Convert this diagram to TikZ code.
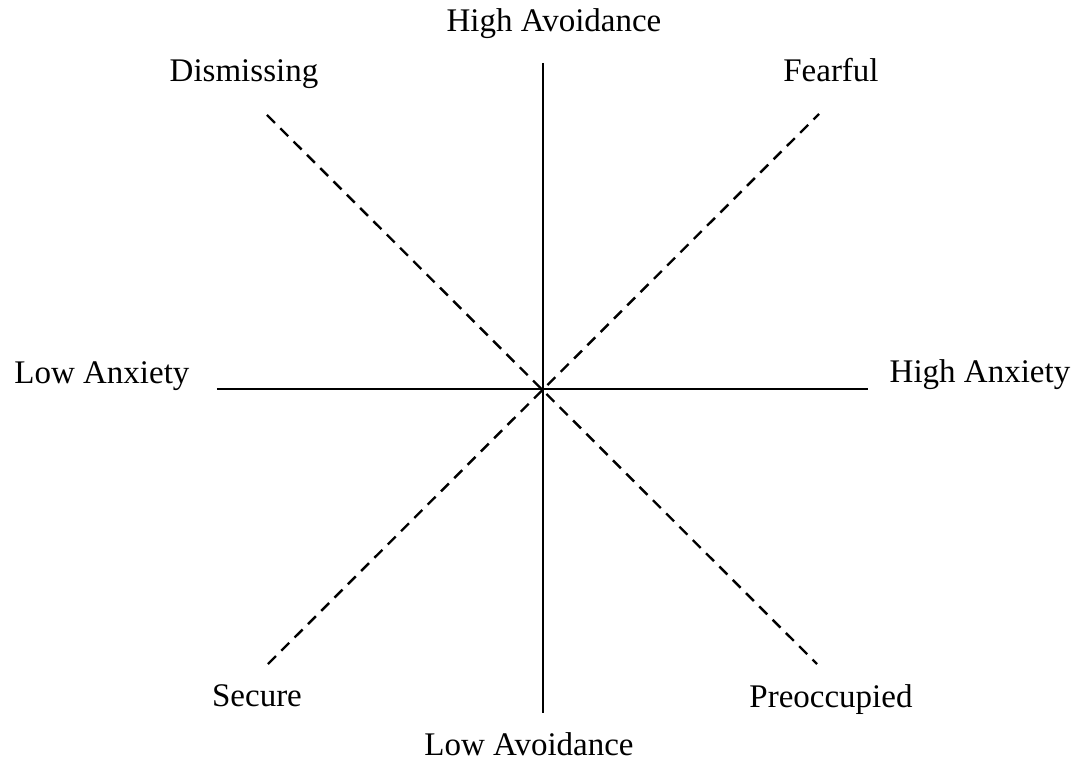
\documentclass[tikz,border=0pt]{standalone}
\usepackage{fontspec}
\setmainfont{Liberation Serif}
\usetikzlibrary{positioning}
\tikzset{
  axisline/.style={line width=1.25pt},
  styleline/.style={line width=1.2pt, dash pattern=on 5.6pt off 3.8pt},
  axlabel/.style={anchor=base, inner sep=0pt},
}

\begin{document}
\begin{tikzpicture}[
    x=0.5pt, y=0.5pt,
    font=\fontsize{16.5}{19.8}\selectfont,
    every node/.style={align=center},
]
\useasboundingbox (-543,-372) rectangle (534,389);

% ---- end points ----
\coordinate (c) at (0,0);
\coordinate (top) at (0,326);
\coordinate (bot) at (0,-324);
\coordinate (lft) at (-326,0);
\coordinate (rgt) at (325,0);
\coordinate (tl) at (-276,274);
\coordinate (tr) at (276,275);
\coordinate (bl) at (-275,-275);
\coordinate (br) at (274,-275);

% ---- dimension labels ----
\node[axlabel] (hiAvoid) at (11,357) {High Avoidance};
\node[axlabel] (loAvoid) at (-14,-366) {Low Avoidance};
\node[axlabel] (loAnx) at (-441,6) {Low Anxiety};
\node[axlabel] (hiAnx) at (437,7) {High Anxiety};

% ---- attachment styles ----
\node[axlabel] (dismiss) at (-299,307) {Dismissing};
\node[axlabel] (fearful) at (288,307) {Fearful};
\node[axlabel] (secure) at (-286,-317) {Secure};
\node[axlabel] (preocc) at (288,-318) {Preoccupied};

% ---- axes ----
\draw[axisline] (top) -- (bot);
\draw[axisline] (lft) -- (rgt);

% ---- diagonals ----
\draw[styleline] (tl) -- (br);
\draw[styleline] (bl) -- (tr);

\end{tikzpicture}
\end{document}
